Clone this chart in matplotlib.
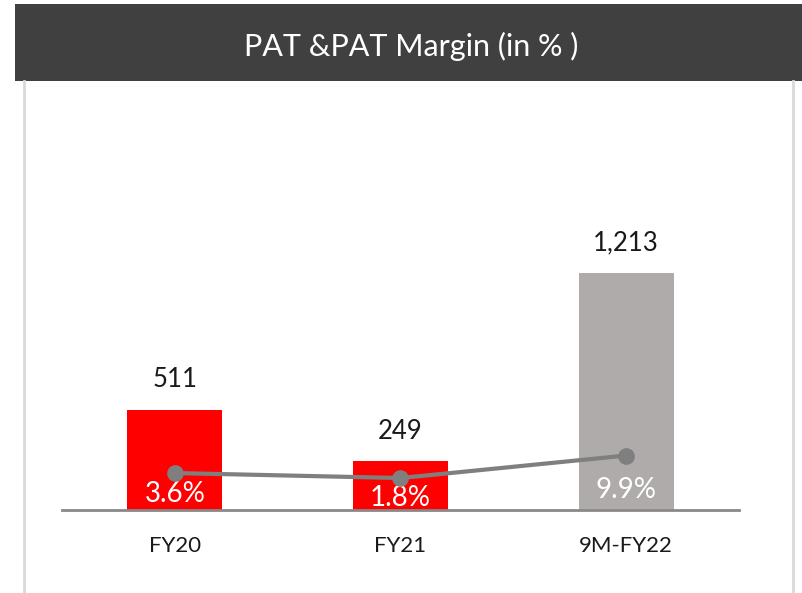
import matplotlib
matplotlib.use("Agg")
import matplotlib.pyplot as plt
from matplotlib.patches import Rectangle
from matplotlib.lines import Line2D

categories = ["FY20", "FY21", "9M-FY22"]
pat_values = [511, 249, 1213]
pat_labels = ["511", "249", "1,213"]
margin_values = [3.6, 1.8, 9.9]
margin_labels = ["3.6%", "1.8%", "9.9%"]
bar_colors = ["#FF0000", "#FF0000", "#AFABAB"]
title = "PAT &PAT Margin (in % )"

# label offsets (pixels) below the margin markers
margin_label_offsets = [-21, -20, -34]

W, H = 803, 593
fig = plt.figure(figsize=(W / 100, H / 100), dpi=100)
fig.patch.set_facecolor("white")
FONT = "Lato"

# header band
fig.add_artist(Rectangle((15 / W, 1 - 81 / H), 1 - 15 / W, 77 / H,
                         transform=fig.transFigure, facecolor="#404040",
                         edgecolor="none"))
fig.text(411 / W, 1 - 46 / H, title, color="white", fontsize=22,
         family=FONT, ha="center", va="center")
# side borders
for xb in (24, 793):
    fig.add_artist(Line2D([xb / W, xb / W], [0, 1 - 81 / H],
                          transform=fig.transFigure, color="#D9D9D9", lw=2))

ax = fig.add_axes([62 / W, (H - 510) / H, 677 / W, (510 - 100) / H])
ax.set_facecolor("none")
x = list(range(len(categories)))
ax.bar(x, pat_values, width=0.42, color=bar_colors, zorder=2)
ax.set_xlim(-0.5, len(categories) - 0.5)
ax.set_ylim(0, 2095)
for s in ("top", "left", "right"):
    ax.spines[s].set_visible(False)
ax.spines["bottom"].set_color("#898989")
ax.spines["bottom"].set_linewidth(2)
ax.spines["bottom"].set_zorder(3)
ax.set_yticks([])
ax.set_xticks([])

for xi, v, lab in zip(x, pat_values, pat_labels):
    ax.annotate(lab, (xi, v), xytext=(0, 30), textcoords="offset pixels",
                ha="center", va="center", fontsize=18.5, family=FONT,
                color="#1a1a1a")
for xi, lab in zip(x, categories):
    ax.annotate(lab, (xi, 0), xytext=(0, -36), textcoords="offset pixels",
                ha="center", va="center", fontsize=16, family=FONT,
                color="#1a1a1a", annotation_clip=False)

ax2 = ax.twinx()
ax2.set_ylim(-9.7, 137.8)
ax2.axis("off")
ax2.plot(x, margin_values, color="#7F7F7F", lw=3, marker="o", ms=11,
         zorder=4)
for xi, v, lab, off in zip(x, margin_values, margin_labels,
                           margin_label_offsets):
    ax2.annotate(lab, (xi, v), xytext=(0, off), textcoords="offset pixels",
                 ha="center", va="center", fontsize=20, family=FONT,
                 color="white")

fig.savefig("out.png", dpi=100, facecolor="white")
